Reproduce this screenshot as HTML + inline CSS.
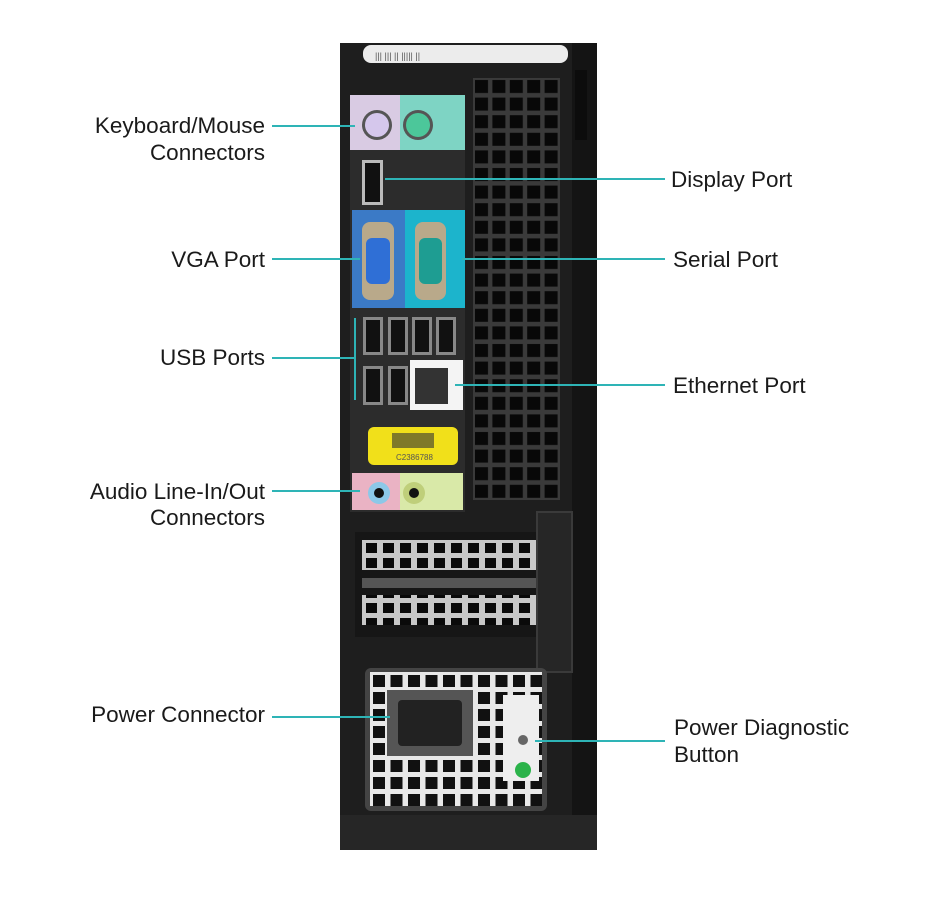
<!DOCTYPE html>
<html><head><meta charset="utf-8"><style>
html,body{margin:0;padding:0;background:#fff;}
svg{display:block}
text{font-family:"Liberation Sans",sans-serif;font-size:22.5px;fill:#1a1a1a}
</style></head><body>
<svg width="950" height="903" viewBox="0 0 950 903" xmlns="http://www.w3.org/2000/svg">
<defs>
<pattern id="vent" x="473" y="78" width="17.4" height="17.6" patternUnits="userSpaceOnUse">
<rect width="17.4" height="17.6" fill="#3a3a3a"/><rect x="2" y="2" width="13" height="13" fill="#080808"/></pattern>
<pattern id="slot" x="362" y="540" width="17" height="15" patternUnits="userSpaceOnUse">
<rect width="17" height="15" fill="#c8c8c8"/><rect x="4" y="3" width="11" height="10" fill="#0a0a0a"/></pattern>
<pattern id="psu" x="370" y="672" width="17.5" height="17" patternUnits="userSpaceOnUse">
<rect width="17.5" height="17" fill="#e8e8e8"/><rect x="3" y="3" width="12" height="12" fill="#111"/></pattern>
</defs>
<rect x="340" y="43" width="257" height="807" fill="#1e1e1e"/>
<rect x="572" y="43" width="25" height="807" fill="#141414"/>
<rect x="363" y="45" width="205" height="18" rx="8" fill="#ececec"/>
<text x="375" y="59" style="font-size:9px;fill:#555">|||  |||  ||  |||||  ||</text>
<rect x="575" y="70" width="12" height="70" fill="#0c0c0c"/>
<rect x="473" y="78" width="87" height="422" fill="url(#vent)"/>
<rect x="350" y="95" width="115" height="417" fill="#2c2c2c"/>
<rect x="350" y="95" width="50" height="55" fill="#d9cbe3"/>
<rect x="400" y="95" width="65" height="55" fill="#7ed4c4"/>
<circle cx="377" cy="125" r="15" fill="#555"/><circle cx="377" cy="125" r="12" fill="#d5c7ec"/>
<circle cx="418" cy="125" r="15" fill="#555"/><circle cx="418" cy="125" r="12" fill="#4cc79a"/>
<rect x="362" y="160" width="21" height="45" fill="#bbb"/><rect x="365" y="163" width="15" height="39" fill="#111"/>
<rect x="352" y="210" width="53" height="98" fill="#3b7ac6"/>
<rect x="405" y="210" width="60" height="98" fill="#1cb4cc"/>
<rect x="362" y="222" width="32" height="78" rx="8" fill="#b9a98a"/><rect x="366" y="238" width="24" height="46" rx="6" fill="#2f6fd6"/>
<rect x="415" y="222" width="31" height="78" rx="8" fill="#b9a98a"/><rect x="419" y="238" width="23" height="46" rx="6" fill="#1e9d92"/>
<g fill="#888"><rect x="363" y="317" width="20" height="38"/><rect x="388" y="317" width="20" height="38"/><rect x="412" y="317" width="20" height="38"/><rect x="436" y="317" width="20" height="38"/><rect x="363" y="366" width="20" height="39"/><rect x="388" y="366" width="20" height="39"/></g>
<g fill="#111"><rect x="366" y="320" width="14" height="32"/><rect x="391" y="320" width="14" height="32"/><rect x="415" y="320" width="14" height="32"/><rect x="439" y="320" width="14" height="32"/><rect x="366" y="369" width="14" height="33"/><rect x="391" y="369" width="14" height="33"/></g>
<rect x="410" y="360" width="53" height="50" fill="#f4f4f4"/>
<rect x="415" y="368" width="33" height="36" fill="#333"/>
<rect x="368" y="427" width="90" height="38" rx="6" fill="#f1e01a"/>
<rect x="392" y="433" width="42" height="15" fill="#333" opacity=".6"/>
<text x="396" y="460" style="font-size:8px;fill:#555">C2386788</text>
<rect x="352" y="473" width="48" height="37" fill="#eab3c4"/>
<rect x="400" y="473" width="63" height="37" fill="#d9e9a8"/>
<circle cx="379" cy="493" r="11" fill="#8cc8e8"/><circle cx="379" cy="493" r="5" fill="#111"/>
<circle cx="414" cy="493" r="11" fill="#bfcf7a"/><circle cx="414" cy="493" r="5" fill="#111"/>
<rect x="355" y="532" width="197" height="105" fill="#161616"/>
<rect x="362" y="540" width="190" height="30" fill="url(#slot)"/>
<rect x="362" y="578" width="190" height="10" fill="#555"/>
<rect x="362" y="595" width="190" height="30" fill="url(#slot)"/>
<rect x="537" y="512" width="35" height="160" fill="#262626" stroke="#3a3a3a" stroke-width="2"/>
<rect x="365" y="668" width="182" height="143" rx="6" fill="#444"/>
<rect x="370" y="672" width="172" height="134" fill="url(#psu)"/>
<rect x="387" y="690" width="86" height="66" fill="#555"/>
<rect x="398" y="700" width="64" height="46" rx="4" fill="#222"/>
<rect x="503" y="695" width="36" height="86" fill="#eee"/>
<circle cx="523" cy="740" r="5" fill="#666"/>
<circle cx="523" cy="770" r="8" fill="#2bb34a"/>
<rect x="340" y="815" width="257" height="35" fill="#262626"/>
<g stroke="#2eb4b6" stroke-width="2" fill="none">
<line x1="272" y1="126" x2="355" y2="126"/>
<line x1="385" y1="179" x2="665" y2="179"/>
<line x1="272" y1="259" x2="360" y2="259"/>
<line x1="462" y1="259" x2="665" y2="259"/>
<line x1="272" y1="358" x2="355" y2="358"/>
<line x1="355" y1="318" x2="355" y2="400"/>
<line x1="455" y1="385" x2="665" y2="385"/>
<line x1="272" y1="491" x2="360" y2="491"/>
<line x1="272" y1="717" x2="390" y2="717"/>
<line x1="535" y1="741" x2="665" y2="741"/>
</g>
<g text-anchor="end">
<text x="265" y="133">Keyboard/Mouse</text>
<text x="265" y="160">Connectors</text>
<text x="265" y="267">VGA Port</text>
<text x="265" y="365">USB Ports</text>
<text x="265" y="499">Audio Line-In/Out</text>
<text x="265" y="525">Connectors</text>
<text x="265" y="722">Power Connector</text>
</g>
<text x="671" y="187">Display Port</text>
<text x="673" y="267">Serial Port</text>
<text x="673" y="393">Ethernet Port</text>
<text x="674" y="735">Power Diagnostic</text>
<text x="674" y="762">Button</text>
</svg>
</body></html>
